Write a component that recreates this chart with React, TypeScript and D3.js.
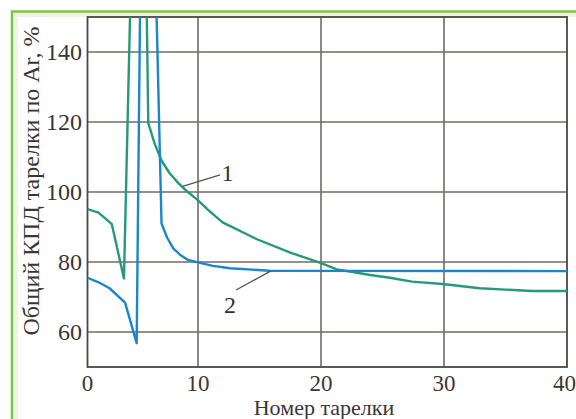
import React from 'react'
import * as d3 from 'd3'

// curve 1 (green) and curve 2 (blue)
const curve1X = [0, 1.0, 2.2, 3.3, 4.8, 5.5, 6.1, 6.7, 7.4, 8.2, 9.0, 9.9, 11.0, 12.0, 14.8, 17.5, 19.9, 21.3, 24.0, 25.6, 27.4, 29.9, 32.9, 37.2, 40]
const curve1Y = [95.1, 94.1, 90.8, 75.3, 280, 119.7, 113.6, 109.0, 105.5, 102.6, 100.2, 97.9, 94.3, 91.3, 86.5, 82.7, 79.8, 77.9, 76.3, 75.5, 74.4, 73.7, 72.5, 71.7, 71.7]
const curve2X = [0, 1.0, 2.0, 3.4, 4.45, 5.2, 6.7, 7.2, 7.76, 8.4, 9.1, 10.0, 11.2, 12.6, 15.8, 40]
const curve2Y = [75.5, 74.2, 72.5, 68.4, 56.8, 290, 91, 87.0, 83.9, 82.0, 80.6, 79.9, 78.9, 78.2, 77.5, 77.4]

const xTicks = [0, 10, 20, 30, 40]
const yTicks = [60, 80, 100, 120, 140]

const W = 576
const H = 419
const left = 87.5
const right = 567
const top = 17
const bottom = 367

const font = '"Liberation Serif", "DejaVu Serif", serif'
const gridColor = '#6f6b68'
const green = '#27997a'
const blue = '#1b87c8'

export default function App() {
  // the original grid is not even: first interval is narrower
  const x = d3.scaleLinear().domain([0, 10, 40]).range([left, 198, right])
  const y = d3.scaleLinear().domain([50, 150]).range([bottom, top])

  const line = d3.line<[number, number]>()
    .x(d => x(d[0]))
    .y(d => y(d[1]))

  const d1 = line(curve1X.map((v, i) => [v, curve1Y[i]]))
  const d2 = line(curve2X.map((v, i) => [v, curve2Y[i]]))

  return (
    <svg width={W} height={H} style={{ position: 'absolute', left: 0, top: 0, background: '#fff' }}>
      <defs>
        <clipPath id="plot">
          <rect x={left} y={top} width={right - left} height={bottom - top} />
        </clipPath>
      </defs>

      {/* green page frame */}
      <rect x={13} y={12} width={W} height={H} fill="#edf6e5" />
      <rect x={18} y={17} width={W} height={H} fill="#fff" />
      <path d={`M12,${H} V11.5 H${W}`} fill="none" stroke="#78c548" strokeWidth={2.5} />

      {/* grid */}
      {yTicks.map(t => (
        <line key={'h' + t} x1={left} x2={right} y1={y(t)} y2={y(t)} stroke={gridColor} strokeWidth={1.6} />
      ))}
      {xTicks.slice(1, -1).map(t => (
        <line key={'v' + t} x1={x(t)} x2={x(t)} y1={top} y2={bottom} stroke={gridColor} strokeWidth={1.6} />
      ))}
      <rect x={left} y={top} width={right - left} height={bottom - top} fill="none" stroke="#4a4643" strokeWidth={1.8} />

      {/* curves */}
      <g clipPath="url(#plot)" fill="none" strokeWidth={2.4} strokeLinejoin="round">
        <path d={d1 ?? ''} stroke={green} />
        <path d={d2 ?? ''} stroke={blue} />
      </g>

      {/* curve labels */}
      <line x1={x(8.6)} y1={y(101.6)} x2={x(11.8)} y2={y(104.9)} stroke="#555" strokeWidth={1.3} />
      <text x={x(12.4)} y={y(103.2)} fontFamily={font} fontSize={24} fill="#333" textAnchor="middle">1</text>
      <line x1={x(13.1)} y1={y(72)} x2={x(15.9)} y2={y(77.4)} stroke="#555" strokeWidth={1.3} />
      <text x={x(12.6)} y={y(65.4)} fontFamily={font} fontSize={24} fill="#333" textAnchor="middle">2</text>

      {/* tick labels */}
      {yTicks.map(t => (
        <text key={'yl' + t} x={82} y={y(t) + 8} fontFamily={font} fontSize={24} fill="#3a3634" textAnchor="end">{t}</text>
      ))}
      {xTicks.map((t, i) => (
        <text
          key={'xl' + t}
          x={i === xTicks.length - 1 ? W : x(t)}
          y={391}
          fontFamily={font}
          fontSize={23}
          fill="#3a3634"
          textAnchor={i === xTicks.length - 1 ? 'end' : 'middle'}
        >{t}</text>
      ))}

      {/* axis titles */}
      <text x={324} y={415} fontFamily={font} fontSize={22} fill="#3a3634" textAnchor="middle">Номер тарелки</text>
      <text transform="translate(39,181) rotate(-90)" fontFamily={font} fontSize={24} fill="#3a3634" textAnchor="middle">
        Общий КПД тарелки по Ar, %
      </text>
    </svg>
  )
}
